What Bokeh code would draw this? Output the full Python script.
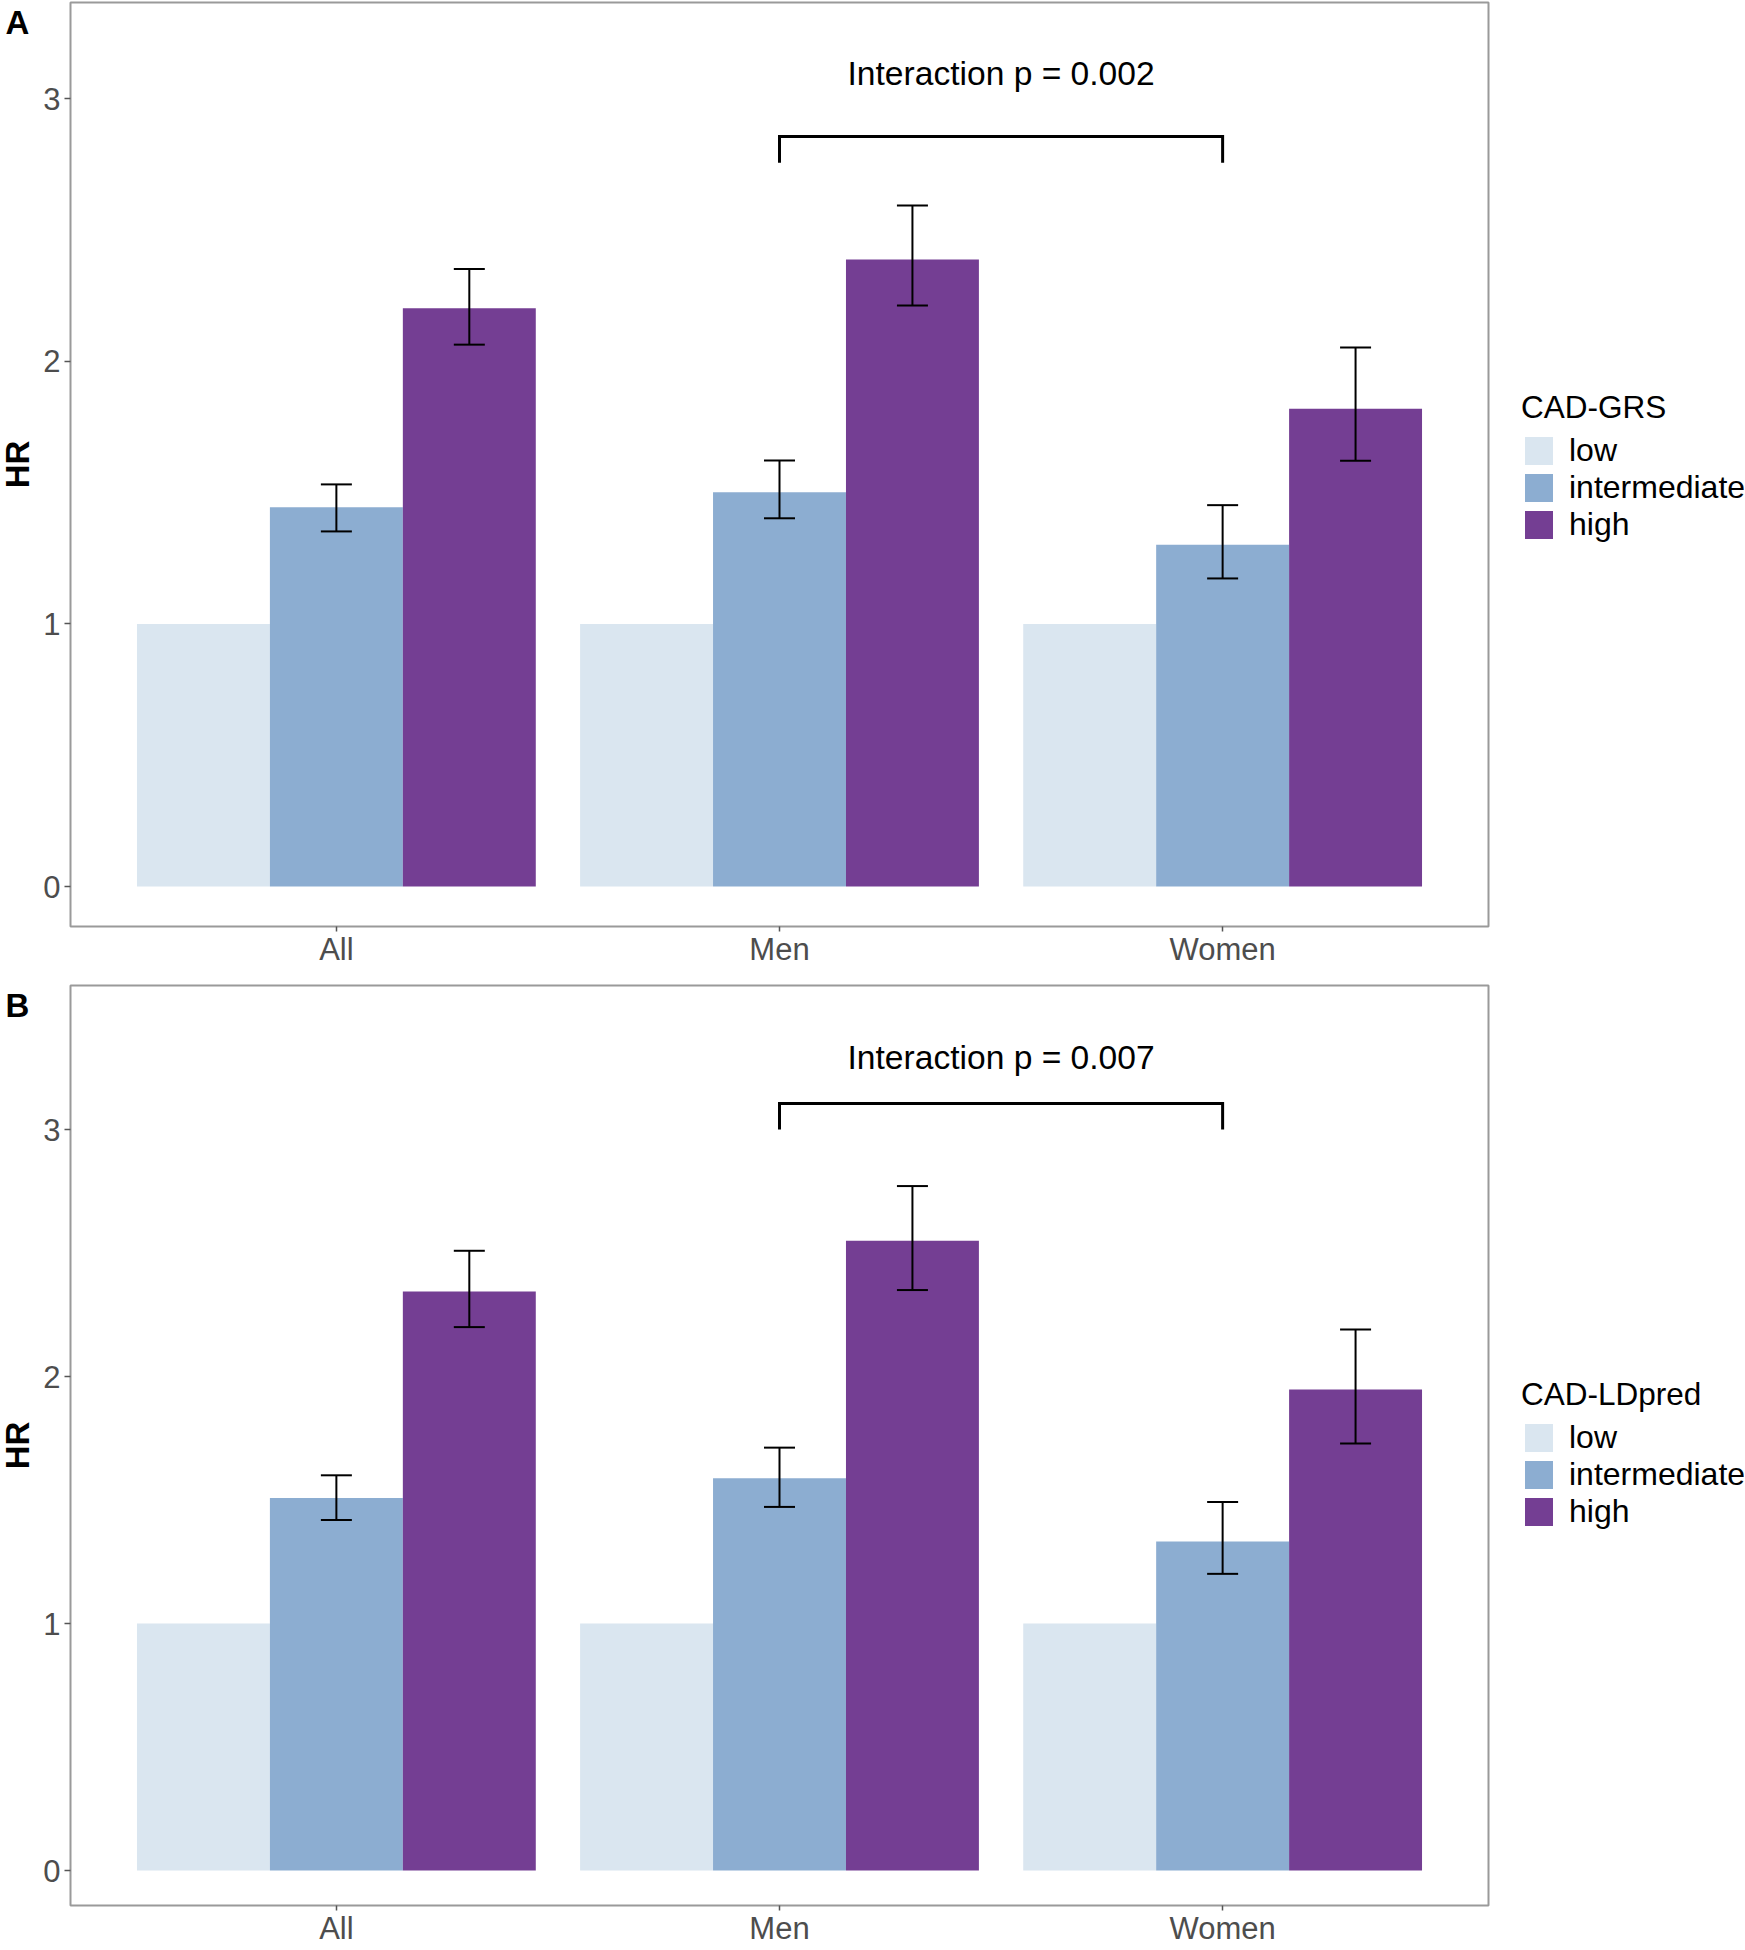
import math
from bokeh.plotting import figure
from bokeh.models import (ColumnDataSource, Whisker, TeeHead, Legend, LegendItem,
                          FixedTicker, Range1d)
from bokeh.layouts import column, row
from bokeh.embed import file_html
from bokeh.resources import INLINE
from bokeh.core.properties import value

# ---------------- data ----------------
groups = ["All", "Men", "Women"]
levels = ["low", "intermediate", "high"]
colors = ["#DAE6F0", "#8CADD1", "#743E93"]
y_ticks = [0, 1, 2, 3]
y_title = "HR"

# Panel A : CAD-GRS
a_tag = "A"
a_title = "CAD-GRS"
a_low = [1.0, 1.0, 1.0]
a_int = [1.444, 1.501, 1.301]
a_int_lo = [1.352, 1.402, 1.173]
a_int_hi = [1.531, 1.622, 1.452]
a_high = [2.202, 2.387, 1.819]
a_high_lo = [2.063, 2.212, 1.621]
a_high_hi = [2.351, 2.593, 2.052]
a_ptext = "Interaction p = 0.002"
a_bracket = ["Men", "Women"]
a_bracket_y = [2.855, 2.755]   # top, tip
a_ptext_y = 3.094

# Panel B : CAD-LDpred
b_tag = "B"
b_title = "CAD-LDpred"
b_low = [1.0, 1.0, 1.0]
b_int = [1.508, 1.588, 1.332]
b_int_lo = [1.419, 1.472, 1.201]
b_int_hi = [1.600, 1.712, 1.492]
b_high = [2.344, 2.550, 1.947]
b_high_lo = [2.200, 2.350, 1.729]
b_high_hi = [2.509, 2.771, 2.190]
b_ptext = "Interaction p = 0.007"
b_bracket = ["Men", "Women"]
b_bracket_y = [3.105, 3.0]
b_ptext_y = 3.29

FONT = "Liberation Sans"
DODGE = [-0.3, 0.0, 0.3]
BAR_W = 0.3
FRAME_W = 1418
LEFT_W = 36
RIGHT_W = 254


def plain(fig):
    fig.outline_line_color = None
    fig.xaxis.visible = False
    fig.yaxis.visible = False
    fig.xgrid.visible = False
    fig.ygrid.visible = False
    fig.background_fill_color = "white"
    fig.border_fill_color = "white"
    return fig


def make_panel(tag, title, low, inter, inter_lo, inter_hi, high, high_lo, high_hi,
               ptext, bracket, bracket_y, ptext_y, frame_h, border_top,
               y_start, y_end, legend_y):
    # ---- main plot ----
    p = figure(frame_width=FRAME_W, frame_height=frame_h, output_backend="svg",
               toolbar_location=None,
               x_range=Range1d(0.4, 3.6), y_range=Range1d(y_start, y_end),
               min_border_left=70 - LEFT_W, min_border_right=2,
               min_border_top=border_top, min_border_bottom=0)
    p.background_fill_color = "white"
    p.border_fill_color = "white"
    p.outline_line_color = "#9a9a9a"
    p.outline_line_width = 2
    p.xgrid.visible = False
    p.ygrid.visible = False

    gx = [i + 1 for i in range(len(groups))]
    series = [(low, None, None), (inter, inter_lo, inter_hi), (high, high_lo, high_hi)]
    for k, (vals, lo, hi) in enumerate(series):
        xs = [g + DODGE[k] for g in gx]
        src = ColumnDataSource(dict(x=xs, top=vals))
        p.vbar(x="x", top="top", bottom=0, width=BAR_W, source=src,
               fill_color=colors[k], line_color=None)
        if lo is not None:
            wsrc = ColumnDataSource(dict(x=xs, lower=lo, upper=hi))
            w = Whisker(base="x", lower="lower", upper="upper", source=wsrc,
                        level="annotation",
                        line_color="black", line_width=2,
                        upper_head=TeeHead(size=31, line_color="black", line_width=2),
                        lower_head=TeeHead(size=31, line_color="black", line_width=2))
            p.add_layout(w)

    bx0 = groups.index(bracket[0]) + 1
    bx1 = groups.index(bracket[1]) + 1
    p.line(x=[bx0, bx0, bx1, bx1],
           y=[bracket_y[1], bracket_y[0], bracket_y[0], bracket_y[1]],
           line_color="black", line_width=3, line_join="miter")
    p.text(x=[(bx0 + bx1) / 2], y=[ptext_y], text=[ptext],
           text_font=value(FONT), text_font_size="33.6px", text_color="black",
           text_align="center", text_baseline="middle")

    p.xaxis.ticker = FixedTicker(ticks=gx)
    p.xaxis.major_label_overrides = {g: n for g, n in zip(gx, groups)}
    p.yaxis.ticker = FixedTicker(ticks=y_ticks)
    for ax in (p.xaxis[0], p.yaxis[0]):
        ax.axis_line_color = None
        ax.major_tick_line_color = "#555555"
        ax.major_tick_line_width = 1.5
        ax.major_tick_out = 5
        ax.major_tick_in = 0
        ax.minor_tick_line_color = None
        ax.major_label_text_font = FONT
        ax.major_label_text_font_size = "31px"
        ax.major_label_text_color = "#4D4D4D"
        ax.major_label_standoff = 0
    p.yaxis[0].major_tick_out = 6
    p.yaxis[0].major_label_standoff = 4

    # ---- left strip: panel tag and y title ----
    left = plain(figure(frame_width=LEFT_W, frame_height=frame_h, output_backend="svg",
                        toolbar_location=None, x_range=Range1d(0, LEFT_W),
                        y_range=Range1d(0, frame_h), min_border_left=0,
                        min_border_right=0, min_border_top=border_top,
                        min_border_bottom=0))
    left.text(x=[5], y=[frame_h - 1], text=[tag], text_font=value(FONT),
              text_font_size="33px", text_font_style="bold", text_color="black",
              text_align="left", text_baseline="top")
    left.text(x=[17], y=[frame_h / 2], text=[y_title], angle=math.pi / 2,
              text_font=value(FONT), text_font_size="33px", text_font_style="bold",
              text_color="black", text_align="center", text_baseline="middle")

    # ---- right strip: legend (swatches from the same series, drawn off-view) ----
    right = plain(figure(frame_width=RIGHT_W, frame_height=frame_h, output_backend="svg",
                         toolbar_location=None, x_range=Range1d(-2, -1),
                         y_range=Range1d(0, 1), min_border_left=0,
                         min_border_right=0, min_border_top=border_top,
                         min_border_bottom=0))
    items = []
    for k, (lv, c) in enumerate(zip(levels, colors)):
        vals = series[k][0]
        xs = [g + DODGE[k] for g in gx]
        r = right.vbar(x=xs, top=vals, width=BAR_W, fill_color=c, line_color=None)
        items.append(LegendItem(label=lv, renderers=[r]))
    legend = Legend(items=items, location=(31, legend_y), title=title,
                    title_text_font=FONT, title_text_font_size="31.5px",
                    title_text_font_style="normal", title_text_color="black",
                    title_standoff=6,
                    label_text_font=FONT, label_text_font_size="32px",
                    label_text_color="black", label_text_line_height=1.0,
                    glyph_width=35, glyph_height=35, label_height=31,
                    label_standoff=13, spacing=0, padding=0, margin=0,
                    border_line_color=None, background_fill_alpha=0)
    right.add_layout(legend)
    return row(left, p, right, spacing=0)


rowA = make_panel(a_tag, a_title, a_low, a_int, a_int_lo, a_int_hi, a_high, a_high_lo,
                  a_high_hi, a_ptext, a_bracket, a_bracket_y, a_ptext_y,
                  frame_h=924, border_top=2, y_start=-0.152, y_end=3.3655, legend_y=383)
rowB = make_panel(b_tag, b_title, b_low, b_int, b_int_lo, b_int_hi, b_high, b_high_lo,
                  b_high_hi, b_ptext, b_bracket, b_bracket_y, b_ptext_y,
                  frame_h=920, border_top=16, y_start=-0.1417, y_end=3.583, legend_y=375)

layout = column(rowA, rowB, spacing=0)
open("out.html", "w").write(file_html(layout, INLINE))
